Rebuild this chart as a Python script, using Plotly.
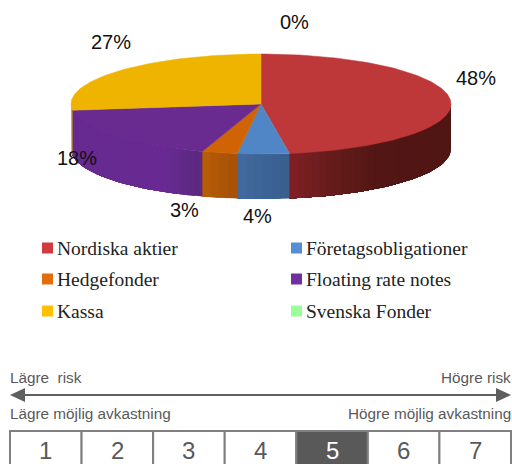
import math
import plotly.graph_objects as go

# Data
categories = ["Nordiska aktier", "Företagsobligationer", "Hedgefonder",
              "Floating rate notes", "Kassa", "Svenska Fonder"]
shares = [47.6, 4.4, 3, 18, 27, 0]
slice_colors = ["#BE3739", "#5086C6", "#D06405", "#692B90", "#EFB400", "#99FF99"]
legend_colors = ["#D13B3D", "#558ED5", "#E46C0A", "#7030A0", "#FFC000", "#99FF99"]
# Side wall colours, left to right on the picture
side_stops = [
    [(0.0, (128, 32, 36)), (0.28, (100, 28, 27)), (0.55, (82, 22, 20)), (1.0, (80, 22, 20))],
    [(0.0, (66, 106, 158)), (1.0, (56, 94, 142))],
    [(0.0, (184, 92, 8)), (1.0, (166, 80, 6))],
    [(0.0, (102, 42, 144)), (0.7, (104, 42, 146)), (1.0, (90, 40, 128))],
    [(0.0, (225, 170, 0)), (1.0, (225, 170, 0))],
    [(0.0, (130, 220, 130)), (1.0, (130, 220, 130))],
]
label_xy = [(476, 78), (257, 216), (184, 210), (77, 158), (111, 42), (294, 22)]
scale_levels = [1, 2, 3, 4, 5, 6, 7]
active_level = 5

# Geometry of the drawing
CX, CY, RX, RY, DEPTH = 261, 104, 190, 50, 45


def lerp_stops(stops, t):
    for (t0, c0), (t1, c1) in zip(stops, stops[1:]):
        if t <= t1:
            f = (t - t0) / (t1 - t0) if t1 > t0 else 0
            return "rgb(%d,%d,%d)" % tuple(round(a + (b - a) * f) for a, b in zip(c0, c1))
    return "rgb(%d,%d,%d)" % stops[-1][1]


def pt(angle, dy=0):
    return CX + RX * math.sin(angle), CY - RY * math.cos(angle) + dy


fig = go.Figure()


def poly(xs, ys, color, line=0.0):
    fig.add_trace(go.Scatter(x=xs, y=ys, mode="lines", fill="toself", fillcolor=color,
                             line=dict(color=color, width=line), hoverinfo="skip",
                             showlegend=False))


# Side wall: painted in order, each layer reaching the end of its slice, so no seams appear
cum = 0
spans = []
for v in shares:
    a0 = cum / 100 * 2 * math.pi
    cum += v
    spans.append((a0, cum / 100 * 2 * math.pi))

for idx, ((a0, a1), stops) in enumerate(zip(spans, side_stops)):
    lo, hi = max(a0, math.pi / 2), min(a1, 3 * math.pi / 2)
    if hi <= lo:
        continue
    n = max(2, int((hi - lo) / 0.04))
    xs0, xs1 = pt(lo)[0], pt(hi)[0]
    xleft, xright = min(xs0, xs1), max(xs0, xs1)
    for i in range(n):
        s0 = lo + (hi - lo) * i / n
        arc = [s0 + (hi - s0) * k / (n - i) for k in range(n - i + 1)]
        top = [pt(a) for a in arc]
        bot = [pt(a, DEPTH) for a in reversed(arc)]
        xmid = pt(s0 + (hi - lo) / (2 * n))[0]
        t = (xmid - xleft) / (xright - xleft)
        all_pts = top + bot + [top[0]]
        poly([p[0] for p in all_pts], [p[1] for p in all_pts], lerp_stops(stops, t))

# Top faces
for (a0, a1), color in zip(spans, slice_colors):
    if a1 <= a0:
        continue
    n = max(4, int((a1 - a0) / 0.02))
    pts = [pt(a0 + (a1 - a0) * i / n) for i in range(n + 1)]
    poly([CX] + [p[0] for p in pts] + [CX], [CY] + [p[1] for p in pts] + [CY], color, 0.5)

# Legend swatches
legend_x = [47.5, 296.5]
legend_y = [248, 279, 311]
for i, (name, col) in enumerate(zip(categories, legend_colors)):
    x = legend_x[i % 2]
    y = legend_y[i // 2]
    poly([x - 5.5, x + 5.5, x + 5.5, x - 5.5, x - 5.5],
         [y - 5.5, y - 5.5, y + 5.5, y + 5.5, y - 5.5], col)

# Arrow
ARROW_Y, AX0, AX1 = 395, 10, 511
fig.add_trace(go.Scatter(x=[AX0 + 8, AX1 - 8], y=[ARROW_Y, ARROW_Y], mode="lines",
                         line=dict(color="#606060", width=2), hoverinfo="skip", showlegend=False))
poly([AX0, AX0 + 15, AX0 + 15, AX0], [ARROW_Y, ARROW_Y - 7, ARROW_Y + 7, ARROW_Y], "#5F5F5F")
poly([AX1, AX1 - 15, AX1 - 15, AX1], [ARROW_Y, ARROW_Y - 7, ARROW_Y + 7, ARROW_Y], "#5F5F5F")

# Risk scale
BX0, BX1, BY0, BY1 = 10, 511, 431, 466
cell = (BX1 - BX0) / len(scale_levels)
shapes = []
ann = []
for i, lv in enumerate(scale_levels):
    x0 = BX0 + i * cell
    shapes.append(dict(type="rect", x0=x0, x1=x0 + cell, y0=BY0, y1=BY1, layer="above",
                       line=dict(color="#7F7F7F", width=2),
                       fillcolor="#595959" if lv == active_level else "white"))

fig.update_layout(shapes=shapes)


def text(x, y, s, size, color, family, anchor="center"):
    ann.append(dict(x=x, y=y, text=s, showarrow=False, xanchor=anchor, yanchor="middle",
                    font=dict(size=size, color=color, family=family),
                    borderpad=0, borderwidth=0))


for i, lv in enumerate(scale_levels):
    text(BX0 + (i + .5) * cell, 450, str(lv), 24, "white" if lv == active_level else "#595959",
         "Liberation Sans")

for v, (x, y) in zip(shares, label_xy):
    text(x, y, f"{round(v)}%", 20, "#111111", "Liberation Sans")

for i, name in enumerate(categories):
    text(legend_x[i % 2] + 9.5, legend_y[i // 2], name, 19.5, "#222222", "Liberation Serif", "left")

text(10, 377, "Lägre  risk", 15.3, "#595959", "Liberation Sans", "left")
text(511, 377, "Högre risk", 15.3, "#595959", "Liberation Sans", "right")
text(10, 413, "Lägre möjlig avkastning", 15.3, "#595959", "Liberation Sans", "left")
text(511, 413, "Högre möjlig avkastning", 15.3, "#595959", "Liberation Sans", "right")

fig.update_layout(
    annotations=ann, width=512, height=464, margin=dict(l=0, r=0, t=0, b=0),
    paper_bgcolor="white", plot_bgcolor="white", showlegend=False,
    xaxis=dict(range=[0, 512], visible=False, fixedrange=True),
    yaxis=dict(range=[464, 0], visible=False, fixedrange=True),
)
fig.write_html("out.html", config={"displayModeBar": False},
               post_script="document.body.style.margin='0';document.body.style.overflow='hidden';")
